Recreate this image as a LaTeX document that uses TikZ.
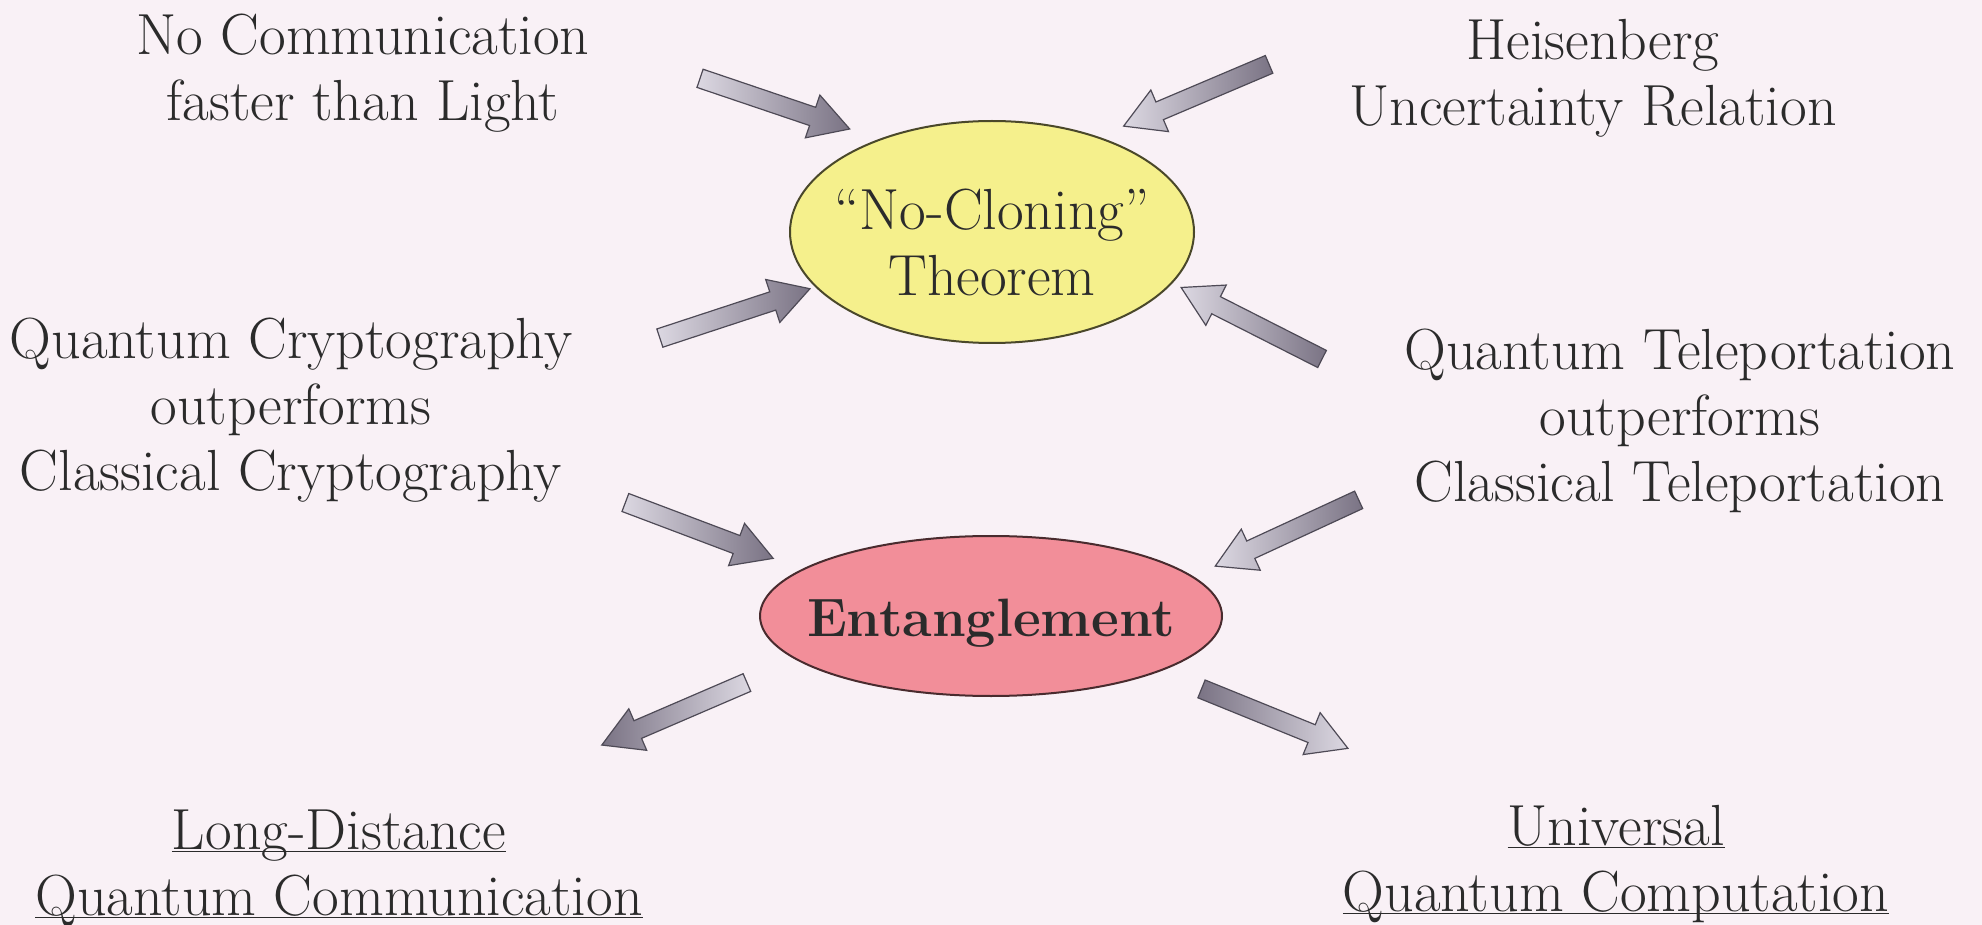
\documentclass[tikz,border=0pt]{standalone}
\usepackage{xcolor}
\usepackage{tikz}
\usetikzlibrary{shapes.geometric,shapes.arrows}
\definecolor{Paper}{HTML}{F9F1F6}
\definecolor{Ink}{HTML}{2B2B2B}
\definecolor{Lemon}{HTML}{F5F08C}
\definecolor{Rose}{HTML}{F28E99}
\definecolor{ArrowLight}{HTML}{DCD8E2}
\definecolor{ArrowDark}{HTML}{7A7384}
\definecolor{ArrowEdge}{HTML}{4E4A56}
\newcommand\ruled[1]{\underline{\smash{#1}}}

\tikzset{
  statement/.style={font=\fontsize{29}{33}\selectfont,text=Ink,align=center,inner sep=0pt},
  bubble/.style={ellipse,draw=#1!30!black,line width=1pt,fill=#1,inner sep=0pt},
  blockarrow/.style={single arrow,draw=ArrowEdge,line width=0.6pt,
    minimum height=79pt,inner xsep=0pt,inner ysep=4.5pt,
    single arrow head extend=6.5pt,single arrow tip angle=60},
  inward/.style={blockarrow,left color=ArrowLight,right color=ArrowDark},
  outward/.style={blockarrow,left color=ArrowDark,right color=ArrowLight}
}

\begin{document}
\begin{tikzpicture}[x=0.5pt,y=-0.5pt]
  \useasboundingbox (0,0) rectangle (1982,925);
  \fill[Paper] (0,0) rectangle (1982,925);
  % the two central ellipses
  \node[bubble=Lemon,minimum width=202pt,minimum height=111pt] (nocloning) at (992,232) {};
  \node[statement] (nocloningtext) at (992,242) {“No-Cloning”\\Theorem};
  \node[bubble=Rose,minimum width=231pt,minimum height=80pt] (entangle) at (991,616) {};
  \node[statement,font=\fontsize{27}{33}\selectfont\bfseries] (entangletext) at (991,623) {Entanglement};
  % statements round them
  \node[statement] (signal) at (363,73) {No Communication\\faster than Light};
  \node[statement] (heisen) at (1593,78) {Heisenberg\\Uncertainty Relation};
  \node[statement] (crypto) at (291,410) {Quantum Cryptography\\outperforms\\Classical Cryptography};
  \node[statement] (telepo) at (1680,421) {Quantum Teleportation\\outperforms\\Classical Teleportation};
  \node[statement] (longdist) at (339,884) {\ruled{Long-Distance}\\\ruled{Quantum Communication}};
  \node[statement] (univ) at (1616,880) {\ruled{Universal}\\\ruled{Quantum Computation}};
  % block arrows, dark end next to the ellipse
  \foreach \name/\x/\y/\ang in {
    arrsignal/767/101/-18.7, arrheisen/1204/92/-157,
    arrcrypto/727/316/18.2, arrtelepo/1259/327/153.1,
    arrcryptoent/691.5/527.5/-20.7, arrtelepoent/1294.5/529.5/-155.2} {
    \node[inward,rotate=\ang] (\name) at (\x,\y) {};
  }
  \foreach \name/\x/\y/\ang in {
    arrlongdist/682/710.5/-156.7, arruniv/1267/715.5/-22.1} {
    \node[outward,rotate=\ang] (\name) at (\x,\y) {};
  }
\end{tikzpicture}
\end{document}
